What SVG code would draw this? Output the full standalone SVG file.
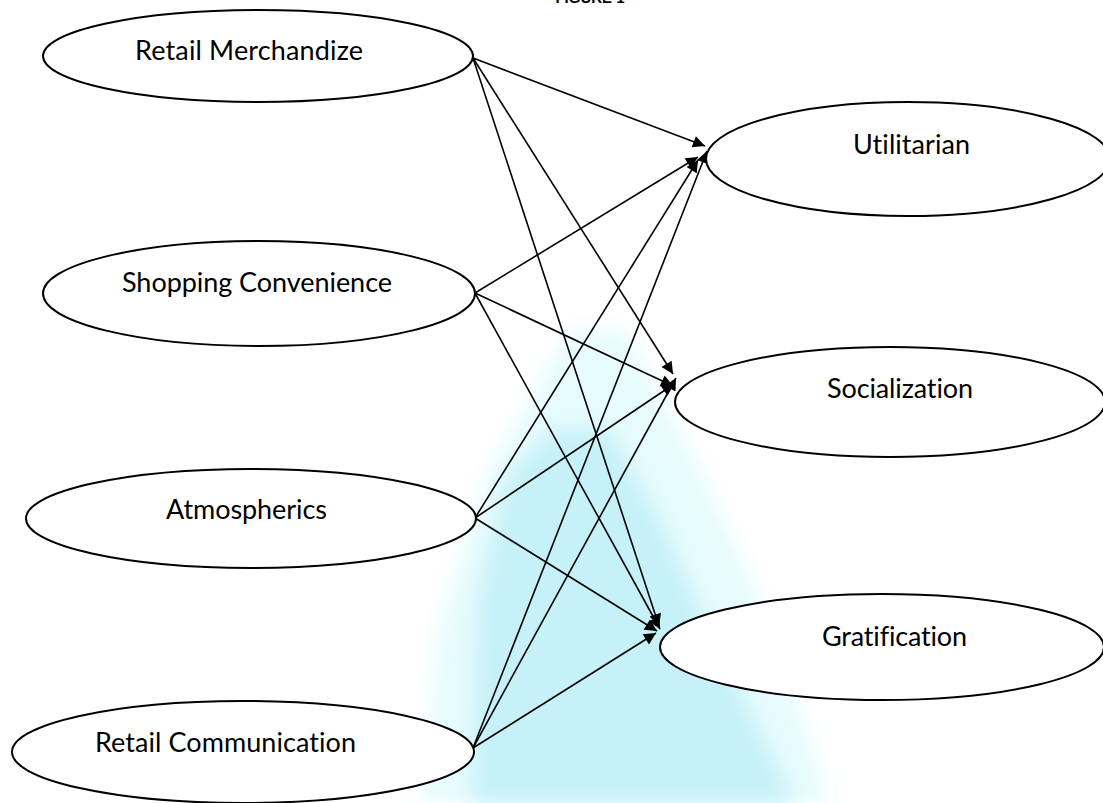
<svg xmlns="http://www.w3.org/2000/svg" width="1103" height="803" viewBox="0 0 1103 803">
  <style>
    .node ellipse { fill: #ffffff; stroke: #000000; stroke-width: 2; }
    .node text { font-family: Lato, "Open Sans", "Liberation Sans", sans-serif; font-size: 27px; fill: #000000; font-variant-ligatures: none; }
    .edges line { stroke: #000000; stroke-width: 1.6; marker-end: url(#arrow); }
    .title { font-family: "Liberation Sans", Arial, sans-serif; font-size: 15px; font-weight: bold; fill: #000000; }
  </style>
  <defs>
    <marker id="arrow" viewBox="0 0 10 10" refX="10" refY="5" markerWidth="15" markerHeight="12" markerUnits="userSpaceOnUse" orient="auto">
      <path d="M0,0 L10,5 L0,10 z" fill="#000000"/>
    </marker>
    <filter id="soft" x="-20%" y="-20%" width="140%" height="140%">
      <feGaussianBlur stdDeviation="10"/>
    </filter>
  </defs>
  <rect width="1103" height="803" fill="#ffffff"/>
  <g id="watermark">
    <polygon points="570,330 625,330 700,470 770,620 830,803 420,803 440,620 490,470" fill="#e6fbfd" filter="url(#soft)"/>
    <polygon points="550,430 610,430 660,520 705,620 795,803 472,803 478,600 505,480" fill="#c6f1f8" filter="url(#soft)"/>
  </g>
  <text class="title" x="590" y="3" text-anchor="middle">FIGURE 1</text>
  <g id="connectors" class="edges">
    <line x1="473" y1="58" x2="705" y2="146"/>
    <line x1="473" y1="58" x2="673" y2="374"/>
    <line x1="473" y1="58" x2="659" y2="626"/>
    <line x1="475" y1="293" x2="698" y2="157"/>
    <line x1="475" y1="293" x2="673" y2="386"/>
    <line x1="475" y1="293" x2="660" y2="629"/>
    <line x1="475" y1="518" x2="698" y2="160"/>
    <line x1="475" y1="518" x2="674" y2="384"/>
    <line x1="475" y1="518" x2="657" y2="631"/>
    <line x1="473" y1="748" x2="707" y2="151"/>
    <line x1="473" y1="748" x2="676" y2="378"/>
    <line x1="473" y1="748" x2="656" y2="633"/>
  </g>
  <g id="retail-merchandize" class="node">
    <ellipse cx="258" cy="56" rx="215" ry="46"/>
    <text x="135" y="60" textLength="228">Retail Merchandize</text>
  </g>
  <g id="shopping-convenience" class="node">
    <ellipse cx="259" cy="293.5" rx="216" ry="52.5"/>
    <text x="122" y="292" textLength="270">Shopping Convenience</text>
  </g>
  <g id="atmospherics" class="node">
    <ellipse cx="251" cy="518.5" rx="225" ry="49.5"/>
    <text x="166" y="519" textLength="161">Atmospherics</text>
  </g>
  <g id="retail-communication" class="node">
    <ellipse cx="243" cy="752" rx="231" ry="51"/>
    <text x="95" y="752" textLength="261">Retail Communication</text>
  </g>
  <g id="utilitarian" class="node">
    <ellipse cx="908" cy="159" rx="202" ry="57"/>
    <text x="853" y="154" textLength="117">Utilitarian</text>
  </g>
  <g id="socialization" class="node">
    <ellipse cx="890" cy="402" rx="215" ry="55"/>
    <text x="827" y="398" textLength="146">Socialization</text>
  </g>
  <g id="gratification" class="node">
    <ellipse cx="882" cy="647" rx="222" ry="53"/>
    <text x="822" y="646" textLength="145">Gratification</text>
  </g>
</svg>
